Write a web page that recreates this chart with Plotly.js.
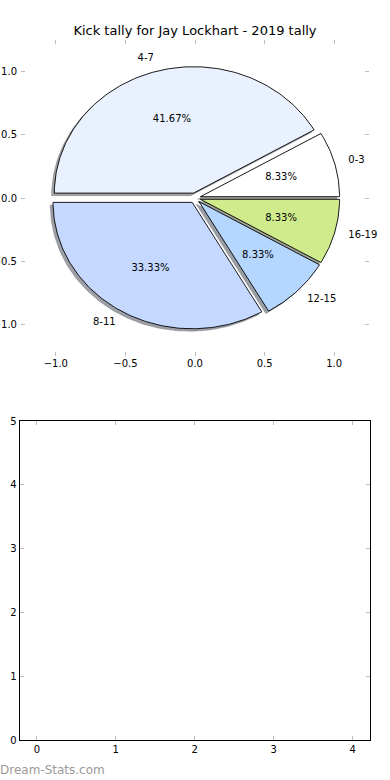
<!DOCTYPE html>
<html>
<head>
<meta charset="utf-8">
<script src="https://cdn.plot.ly/plotly-3.0.1.min.js"></script>
<style>html,body{margin:0;padding:0;background:#fff;}#chart{width:390px;height:780px;}</style>
</head>
<body>
<div id="chart"></div>
<script>
// ---- data ----
const categories = ['0-3', '4-7', '8-11', '12-15', '16-19'];
const tallies = [1, 5, 4, 1, 1];
const pieTicks = [-1, -0.5, 0, 0.5, 1];
const emptyXTicks = [0, 1, 2, 3, 4];
const emptyYTicks = [0, 1, 2, 3, 4, 5];
const titleText = 'Kick tally for Jay Lockhart - 2019 tally';
const watermark = 'Dream-Stats.com';

// ---- styles ----
const sliceColors = ['#ffffff', '#eaf1fe', '#c5d8ff', '#b4d6ff', '#d0eb8c'];
const explode = 0.04;
const shadowOff = -0.02;
const FONT = 'DejaVu Sans, Verdana, sans-serif';

const total = tallies.reduce((a, b) => a + b, 0);
const traces = [];
const shadows = [];
const wedges = [];
const labelsL = {x: [], y: [], text: []}, labelsR = {x: [], y: [], text: []};
const pct = {x: [], y: [], text: []};

function hexToRgb(h) {
  return [parseInt(h.slice(1, 3), 16), parseInt(h.slice(3, 5), 16), parseInt(h.slice(5, 7), 16)];
}

let theta1 = 0;
tallies.forEach((v, i) => {
  const frac = v / total;
  const theta2 = theta1 + frac * 360;
  const mid = (theta1 + theta2) / 2 * Math.PI / 180;
  const cx = explode * Math.cos(mid), cy = explode * Math.sin(mid);
  const xs = [cx], ys = [cy];
  const n = Math.max(4, Math.ceil((theta2 - theta1) / 1));
  for (let k = 0; k <= n; k++) {
    const a = (theta1 + (theta2 - theta1) * k / n) * Math.PI / 180;
    xs.push(cx + Math.cos(a));
    ys.push(cy + Math.sin(a));
  }
  xs.push(cx); ys.push(cy);
  const rgb = hexToRgb(sliceColors[i]).map(c => Math.round(c * 0.3));
  const shc = 'rgba(' + rgb.join(',') + ',0.5)';
  shadows.push({
    type: 'scatter', mode: 'lines', x: xs.map(p => p + shadowOff), y: ys.map(p => p + shadowOff),
    fill: 'toself', fillcolor: shc, line: {color: shc, width: 0.5},
    xaxis: 'x', yaxis: 'y', hoverinfo: 'skip', showlegend: false
  });
  wedges.push({
    type: 'scatter', mode: 'lines', x: xs, y: ys,
    fill: 'toself', fillcolor: sliceColors[i], line: {color: '#000000', width: 0.9},
    xaxis: 'x', yaxis: 'y', hoverinfo: 'skip', showlegend: false
  });
  const lx = cx + 1.1 * Math.cos(mid), ly = cy + 1.1 * Math.sin(mid);
  const tgt = lx > 0 ? labelsR : labelsL;
  tgt.x.push(lx); tgt.y.push(ly); tgt.text.push(categories[i]);
  pct.x.push(cx + 0.6 * Math.cos(mid));
  pct.y.push(cy + 0.6 * Math.sin(mid));
  pct.text.push((frac * 100).toFixed(2) + '%');
  theta1 = theta2;
});

const txtFont = {family: FONT, size: 10, color: '#000000'};
traces.push(...shadows, ...wedges);
traces.push({type: 'scatter', mode: 'text', x: labelsR.x, y: labelsR.y, text: labelsR.text,
  textposition: 'middle right', textfont: txtFont, xaxis: 'x', yaxis: 'y', hoverinfo: 'skip', showlegend: false, cliponaxis: false});
traces.push({type: 'scatter', mode: 'text', x: labelsL.x, y: labelsL.y, text: labelsL.text,
  textposition: 'middle left', textfont: txtFont, xaxis: 'x', yaxis: 'y', hoverinfo: 'skip', showlegend: false, cliponaxis: false});
traces.push({type: 'scatter', mode: 'text', x: pct.x, y: pct.y, text: pct.text,
  textposition: 'middle center', textfont: txtFont, xaxis: 'x', yaxis: 'y', hoverinfo: 'skip', showlegend: false, cliponaxis: false});
// empty second panel (no data)
traces.push({type: 'scatter', mode: 'markers', x: [], y: [], xaxis: 'x2', yaxis: 'y2', hoverinfo: 'skip', showlegend: false});

const W = 390, H = 780;
const tickCommon = {
  ticks: 'inside', ticklen: 4, tickwidth: 1, tickcolor: '#bdbdbd',
  showgrid: false, zeroline: false, tickfont: {family: FONT, size: 10, color: '#000000'}
};

const layout = {
  width: W, height: H,
  margin: {l: 0, r: 0, t: 0, b: 0},
  paper_bgcolor: '#ffffff', plot_bgcolor: 'rgba(0,0,0,0)',
  showlegend: false,
  title: {text: titleText, font: {family: FONT, size: 13, color: '#000000'},
    x: 0.5, xanchor: 'center', y: 1 - 30 / H, yanchor: 'middle', xref: 'paper', yref: 'paper'},
  xaxis: Object.assign({}, tickCommon, {
    domain: [21 / W, 369 / W], range: [-1.25, 1.25], tickvals: pieTicks, tickformat: '.1f',
    showline: false, mirror: 'ticks', anchor: 'y', fixedrange: true
  }),
  yaxis: Object.assign({}, tickCommon, {
    domain: [1 - 356 / H, 1 - 40 / H], range: [-1.25, 1.25], tickvals: pieTicks, tickformat: '.1f',
    showline: false, mirror: 'ticks', anchor: 'x', fixedrange: true, ticklabelstandoff: 3
  }),
  xaxis2: Object.assign({}, tickCommon, {
    domain: [19.5 / W, 370 / W], range: [-0.22, 4.22], tickvals: emptyXTicks, tickformat: 'd',
    showline: true, linecolor: '#000000', linewidth: 1, mirror: 'allticks', anchor: 'y2', fixedrange: true
  }),
  yaxis2: Object.assign({}, tickCommon, {
    domain: [1 - 740 / H, 1 - 421 / H], range: [0, 5], tickvals: emptyYTicks, tickformat: 'd',
    showline: true, linecolor: '#000000', linewidth: 1, mirror: 'allticks', anchor: 'x2', fixedrange: true
  }),
  annotations: [{
    text: watermark, xref: 'paper', yref: 'paper', x: -2 / W, y: 1 - 770 / H,
    xanchor: 'left', yanchor: 'middle', showarrow: false,
    font: {family: FONT, size: 12, color: '#9a9a9a'}
  }]
};

Plotly.newPlot('chart', traces, layout, {displayModeBar: false, staticPlot: true});
</script>
</body>
</html>
